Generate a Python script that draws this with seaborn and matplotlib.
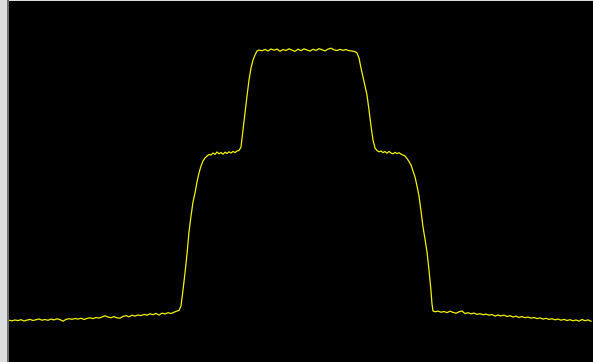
import matplotlib
matplotlib.use("Agg")
import matplotlib.pyplot as plt
import numpy as np
import pandas as pd
import seaborn as sns

# Trace: sample position and signal level
base_left_x = list(range(9, 178, 3))
base_left_y = [41.8, 41.2, 42.0, 41.4, 42.3, 41.0, 41.9, 42.6, 41.5, 42.2,
               43.0, 41.8, 42.5, 41.7, 42.9, 42.1, 43.2, 42.4, 40.8, 42.6,
               43.3, 42.7, 43.5, 42.9, 43.8, 42.5, 43.6, 44.2, 43.4, 44.5,
               43.9, 45.0, 46.2, 45.0, 44.3, 45.4, 44.1, 43.8, 45.6, 46.3,
               45.2, 46.8, 45.9, 47.0, 46.4, 47.6, 46.8, 48.2, 47.3, 48.6,
               46.9, 48.9, 48.0, 49.3, 48.5, 49.8, 51.0]

rise1_x = list(range(179, 240, 2))
rise1_y = [51.5, 56, 72, 89, 108, 130, 146, 160, 169, 180, 189, 196, 201,
           204, 206, 207.5, 207, 209, 207.6, 210, 208.2, 209.5, 207.8, 209.8,
           208.6, 210.2, 209, 210.6, 209.4, 211, 211.5]

rise2_x = list(range(241, 260, 2))
rise2_y = [215, 232, 249, 266, 282, 294, 302, 307, 311, 312]

top_x = list(range(262, 356, 3))
top_y = [311.2, 312.6, 311.0, 313.0, 311.8, 312.9, 310.8, 312.4, 311.5, 313.2,
         311.9, 310.6, 312.8, 311.4, 313.1, 312.0, 310.9, 312.7, 311.6, 313.4,
         312.2, 311.1, 312.9, 313.8, 312.1, 311.5, 312.6, 311.7, 312.4, 311.3,
         311.0, 310.4]

fall1_x = list(range(357, 406, 2))
fall1_y = [309, 304, 294, 285, 276, 267, 252, 236, 222, 214, 211.5,
           210.2, 211.0, 209.4, 210.5, 208.8, 210.6, 209.0, 208.2, 209.6,
           208.4, 209.3, 207.9, 207.0, 206]

fall2_x = list(range(407, 432, 2)) + [432, 433]
fall2_y = [203.5, 200.5, 197, 191, 185, 176, 166, 151, 135, 123, 110, 92, 71,
           58, 51]

base_right_x = list(range(435, 592, 3))
base_right_y = [50.2, 50.9, 49.8, 50.5, 49.4, 50.8, 49.6, 48.8, 50.2, 51.0,
                48.4, 49.3, 48.2, 48.9, 47.6, 48.3, 47.2, 47.9, 46.8, 47.5,
                45.9, 47.0, 46.1, 46.8, 45.5, 46.3, 45.0, 45.8, 44.6, 45.4,
                44.3, 45.0, 43.8, 44.5, 43.4, 44.1, 42.9, 43.7, 42.6, 43.3,
                42.2, 43.0, 41.8, 42.6, 41.5, 42.3, 41.2, 42.0, 40.9, 42.5,
                41.3, 42.1, 40.8]

xs = base_left_x + rise1_x + rise2_x + top_x + fall1_x + fall2_x + base_right_x
ys = base_left_y + rise1_y + rise2_y + top_y + fall1_y + fall2_y + base_right_y
df = pd.DataFrame({"sample": xs, "level": ys})

fig = plt.figure(figsize=(5.93, 3.62), dpi=100)
fig.patch.set_facecolor("#dcddde")
ax = fig.add_axes([8 / 593, 0, 585 / 593, 361 / 362])
ax.set_facecolor("black")

sns.lineplot(data=df, x="sample", y="level", estimator=None, sort=False,
             color="#f2f200", linewidth=0.9, ax=ax)

ax.set_xlim(8, 593)
ax.set_ylim(0, 361)
ax.set_xticks([])
ax.set_yticks([])
ax.set_xlabel("")
ax.set_ylabel("")
for s in ["top", "right", "bottom"]:
    ax.spines[s].set_visible(False)
ax.spines["left"].set_color("#6f6f6f")
ax.spines["left"].set_linewidth(1.44)

fig.savefig("out.png", dpi=100, facecolor=fig.get_facecolor())
